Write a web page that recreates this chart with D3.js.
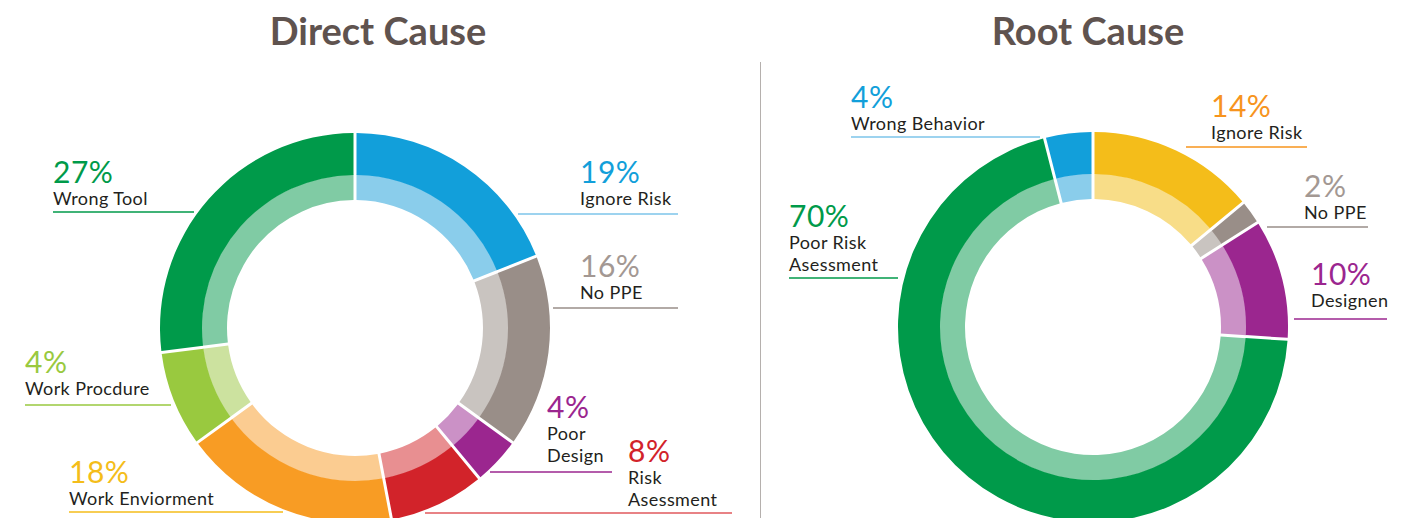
<!DOCTYPE html>
<html>
<head>
<meta charset="utf-8">
<script src="https://cdn.jsdelivr.net/npm/d3@7"></script>
<style>
  html, body { margin: 0; padding: 0; background: #fff; overflow: hidden; }
  svg { display: block; font-family: Lato, "Noto Sans", sans-serif; }
</style>
</head>
<body>
<div id="chart"></div>
<script>
// data
var directCategories = ["Ignore Risk", "No PPE", "Poor Design", "Risk Asessment", "Work Enviorment", "Work Procdure", "Wrong Tool"];
var directValues = [19, 16, 4, 8, 18, 8, 27]; // slice share as drawn
var directLabels = ["19%", "16%", "4%", "8%", "18%", "4%", "27%"]; // as printed

var rootCategories = ["Ignore Risk", "No PPE", "Designen", "Poor Risk Asessment", "Wrong Behavior"];
var rootValues = [14, 2, 10, 70, 4];
var rootLabels = ["14%", "2%", "10%", "70%", "4%"];

var width = 1404, height = 518;

// colours: [dark, light, label, rule]
var palette = {
  blue:   ["#129fda", "#8acdeb", "#129fda", "#7cc4ea"],
  grey:   ["#998e88", "#c9c4c0", "#a39893", "#998e88"],
  purple: ["#9b268f", "#cb91c6", "#9b268f", "#9b268f"],
  red:    ["#d2232a", "#e88f91", "#d2232a", "#e0585d"],
  orange: ["#f89c24", "#fbcc91", "#f4bd1a", "#f4bd1a"],
  lime:   ["#99c93f", "#cce29f", "#99c93f", "#99c93f"],
  green:  ["#009a4a", "#80cba4", "#009a4a", "#009a4a"],
  yellow: ["#f4bd1a", "#f8dd88", "#f7941d", "#f7941d"]
};
var directColours = ["blue", "grey", "purple", "red", "orange", "lime", "green"];
var rootColours = ["yellow", "grey", "purple", "green", "blue"];

// label layout: text x, pct baseline y, name lines, rule y, rule x0..x1
var directLayout = [
  {x: 580, y: 183, lines: ["Ignore Risk"], ry: 214, rx: [518, 678]},
  {x: 580, y: 277, lines: ["No PPE"], ry: 308, rx: [553, 678]},
  {x: 547, y: 418, lines: ["Poor", "Design"], ry: 472, rx: [490, 612]},
  {x: 628, y: 462, lines: ["Risk", "Asessment"], ry: 513, rx: [425, 732]},
  {x: 69, y: 483, lines: ["Work Enviorment"], ry: 512, rx: [69, 283]},
  {x: 25, y: 373, lines: ["Work Procdure"], ry: 405, rx: [25, 171]},
  {x: 53, y: 183, lines: ["Wrong Tool"], ry: 212, rx: [53, 194]}
];
var rootLayout = [
  {x: 1211, y: 117, lines: ["Ignore Risk"], ry: 147, rx: [1186, 1307]},
  {x: 1304, y: 197, lines: ["No PPE"], ry: 227, rx: [1267, 1368]},
  {x: 1311, y: 285, lines: ["Designen"], ry: 319, rx: [1294, 1387]},
  {x: 789, y: 227, lines: ["Poor Risk", "Asessment"], ry: 278, rx: [789, 898]},
  {x: 851, y: 108, lines: ["Wrong Behavior"], ry: 137, rx: [851, 1040]}
];

var svg = d3.select("#chart").append("svg")
  .attr("width", width)
  .attr("height", height);

// divider
svg.append("line")
  .attr("x1", 760.5).attr("x2", 760.5)
  .attr("y1", 62).attr("y2", height)
  .attr("stroke", "#b5b0ad").attr("stroke-width", 1);

function donut(opts) {
  var rOuter = 195, rMid = 153, rInner = 128;
  var pie = d3.pie().sort(null).value(function(d) { return d; });
  var arcs = pie(opts.values);

  var outer = d3.arc().innerRadius(rMid).outerRadius(rOuter)
    .padRadius(rOuter).padAngle(3 / rOuter);
  var inner = d3.arc().innerRadius(rInner).outerRadius(rMid + 0.5)
    .padRadius(rOuter).padAngle(3 / rOuter);

  svg.append("text")
    .attr("x", opts.titleX)
    .attr("y", 45)
    .attr("text-anchor", "middle")
    .attr("font-size", 38)
    .attr("font-weight", 700)
    .attr("fill", "#5f534f")
    .text(opts.title);

  var g = svg.append("g")
    .attr("transform", "translate(" + opts.cx + "," + opts.cy + ")");

  g.selectAll("path.light")
    .data(arcs)
    .enter().append("path")
    .attr("class", "light")
    .attr("fill", function(d, i) { return palette[opts.colours[i]][1]; })
    .attr("d", inner);

  g.selectAll("path.dark")
    .data(arcs)
    .enter().append("path")
    .attr("class", "dark")
    .attr("fill", function(d, i) { return palette[opts.colours[i]][0]; })
    .attr("d", outer);

  var labels = svg.selectAll(null)
    .data(opts.layout)
    .enter().append("g");

  labels.append("line")
    .attr("x1", function(d) { return d.rx[0]; })
    .attr("x2", function(d) { return d.rx[1]; })
    .attr("y1", function(d) { return d.ry; })
    .attr("y2", function(d) { return d.ry; })
    .attr("stroke", function(d, i) { return palette[opts.colours[i]][3]; })
    .attr("stroke-width", 1.5);

  labels.append("text")
    .attr("x", function(d) { return d.x; })
    .attr("y", function(d) { return d.y; })
    .attr("font-size", 30)
    .attr("letter-spacing", 0.5)
    .attr("fill", function(d, i) { return palette[opts.colours[i]][2]; })
    .text(function(d, i) { return opts.labels[i]; });

  labels.each(function(d) {
    var grp = d3.select(this);
    d.lines.forEach(function(line, k) {
      grp.append("text")
        .attr("x", d.x)
        .attr("y", d.y + 22 + k * 22)
        .attr("font-size", 18)
        .attr("letter-spacing", 0.4)
        .attr("fill", "#231f20")
        .text(line);
    });
  });
}

donut({title: "Direct Cause", titleX: 378, cx: 355, cy: 328, values: directValues, labels: directLabels,
       colours: directColours, layout: directLayout});
donut({title: "Root Cause", titleX: 1088, cx: 1093, cy: 327, values: rootValues, labels: rootLabels,
       colours: rootColours, layout: rootLayout});
</script>
</body>
</html>
